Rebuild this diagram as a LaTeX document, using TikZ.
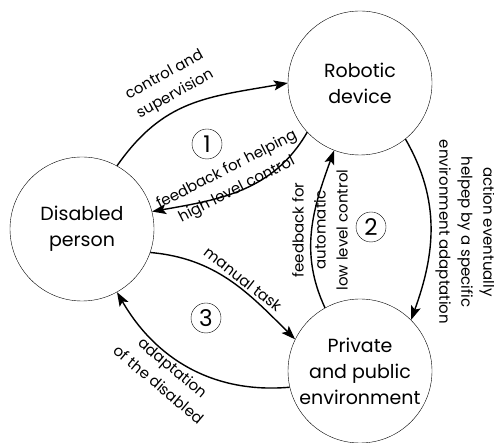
\documentclass[tikz,border=0pt]{standalone}
\usepackage{fontspec}
\setmainfont{Poppins}
\usepackage{tikz}
\usetikzlibrary{arrows.meta, positioning}
\tikzset{
    actor/.style={circle, draw, thin, minimum size=144pt, inner sep=0pt, align=center, font=\fontsize{19}{26}\selectfont},
    flow/.style={-{Stealth[length=14pt, width=10pt, inset=3pt]}, line width=1.4pt},
    loopnum/.style={circle, draw, thin, minimum size=30pt, inner sep=0pt, font=\fontsize{23}{23}\selectfont},
    tag/.style={align=center, inner sep=0pt, font=\fontsize{15}{22}\selectfont}
}
\begin{document}
\begin{tikzpicture}[x=1pt, y=1pt]
    \useasboundingbox (0,0) rectangle (494,443);
    % The three actors
    \node[actor] (dis) at (82,214) {Disabled\\person};
    \node[actor] (rob) at (360,360) {Robotic\\device};
    \node[actor] (env) at (360,72) {Private\\and public\\environment};
    % Loop 1: person and robot
    \draw[flow] (dis.61) to[out=55, in=190, looseness=1.1] (rob.180);
    \draw[flow] (rob.223) to[out=240, in=10] (dis.14);
    \node[tag, rotate=29] (ctrl) at (170,358) {control and\\supervision};
    \node[tag, rotate=27] (fbhigh) at (232,263) {feedback for helping\\high level control};
    \node[loopnum] (n1) at (207,299) {1};
    % Loop 2: robot and environment
    \draw[flow] (env.119) to[out=115, in=250] (rob.249);
    \draw[flow] (rob.-51) to[out=-60, in=70] (env.45);
    \node[tag, rotate=90] (fblow) at (320,213) {feedback for\\automatic\\low level control};
    \node[tag, rotate=-90] (act) at (465,211) {action eventually\\helpep by a specific\\environment adaptation};
    \node[loopnum] (n2) at (371,216) {2};
    % Loop 3: person and environment
    \draw[flow] (dis.-19) to[out=-5, in=135] (env.154);
    \draw[flow] (env.193) to[out=185, in=300] (dis.-61);
    \node[tag, rotate=-38] (manual) at (243,164) {manual task};
    \node[tag, rotate=-40] (adapt) at (166,67) {adaptation\\of the disabled};
    \node[loopnum] (n3) at (206,125) {3};
\end{tikzpicture}
\end{document}
